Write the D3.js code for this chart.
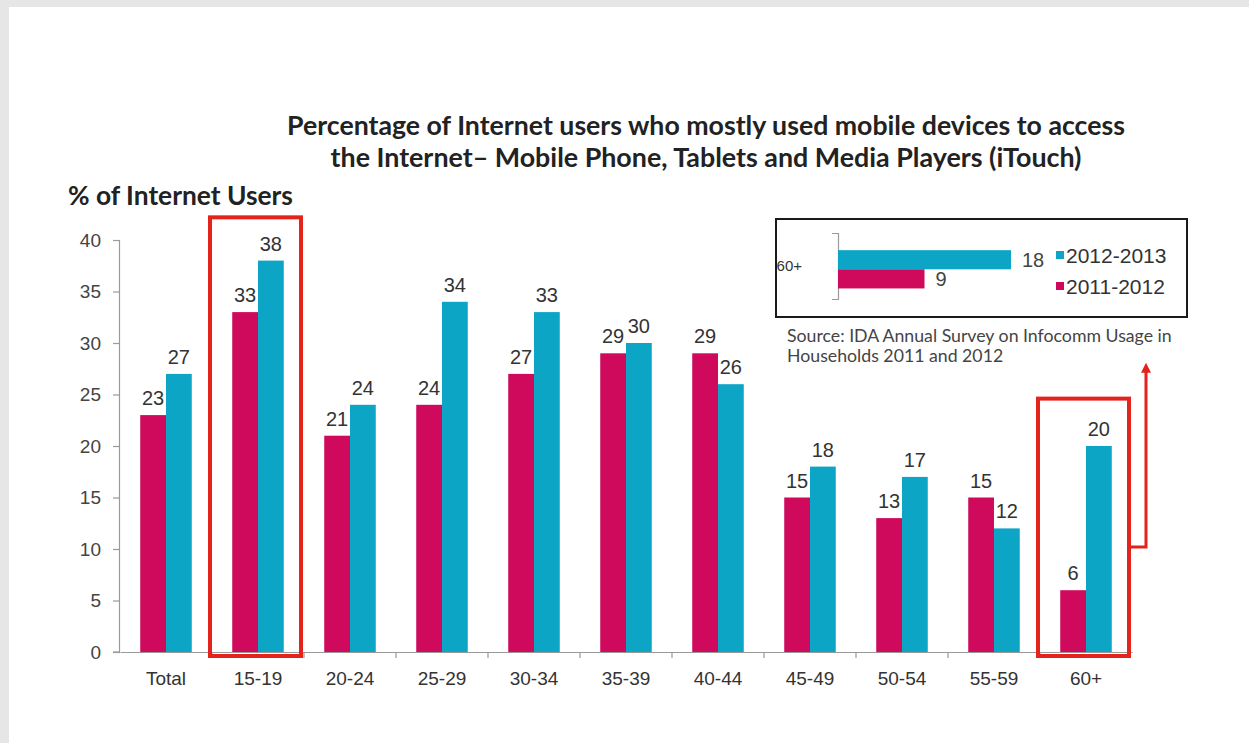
<!DOCTYPE html>
<html>
<head>
<meta charset="utf-8">
<script src="https://cdn.jsdelivr.net/npm/d3@7"></script>
<style>
  html, body { margin: 0; padding: 0; background: #e6e6e6; }
  svg { display: block; }
</style>
</head>
<body>
<svg id="chart" width="1249" height="743"></svg>
<script>
// ---------- data ----------
const categories = ["Total","15-19","20-24","25-29","30-34","35-39","40-44","45-49","50-54","55-59","60+"];
const series = ["2011-2012","2012-2013"];
const values2011 = [23,33,21,24,27,29,29,15,13,15,6];
const values2013 = [27,38,24,34,33,30,26,18,17,12,20];
const yTicks = [0,5,10,15,20,25,30,35,40];
const highlighted = ["15-19","60+"];
const insetCategory = ["60+"];
const insetSeries = ["2012-2013","2011-2012"];
const insetValues = [18, 9];
const titleLines = [
  "Percentage of Internet users who mostly used mobile devices to access",
  "the Internet\u2013 Mobile Phone, Tablets and Media Players (iTouch)"
];
const yTitle = "% of Internet Users";
const sourceLines = [
  "Source: IDA Annual Survey on Infocomm Usage in",
  "Households 2011 and 2012"
];

const colors = { "2011-2012": "#cf0a5c", "2012-2013": "#0ca5c5" };
const sansFont = "'Liberation Sans', Arial, sans-serif";
const titleFont = "Lato, 'Open Sans', sans-serif";

const svg = d3.select("#chart");

// background card
svg.append("rect").attr("x", 0).attr("y", 0).attr("width", 1249).attr("height", 743).attr("fill", "#e6e6e6");
svg.append("rect").attr("x", 9).attr("y", 7).attr("width", 1240).attr("height", 736).attr("fill", "#ffffff");

// ---------- scales ----------
const x = d3.scaleBand().domain(categories).range([120, 1132]).paddingInner(0).paddingOuter(0);
const xSub = d3.scaleBand().domain(series).range([x.bandwidth() * 0.22, x.bandwidth() * 0.78]).padding(0);
const y = d3.scaleLinear().domain([0, 40]).range([652, 240]);

// ---------- title ----------
function fitText(sel, targetWidth, baseSize) {
  sel.attr("font-size", baseSize);
  const w = sel.node().getComputedTextLength();
  const size = baseSize * targetWidth / w;
  sel.attr("font-size", size.toFixed(2));
  return size;
}
const titleWidths = [838, 751];
const titleY = [135, 167];
titleLines.forEach((t, i) => {
  const tx = svg.append("text")
    .attr("x", 706).attr("y", titleY[i])
    .attr("text-anchor", "middle")
    .attr("font-family", titleFont).attr("font-weight", "bold")
    .attr("fill", "#222")
    .text(t);
  fitText(tx, titleWidths[i], 20);
});

const yt = svg.append("text")
  .attr("x", 68).attr("y", 205)
  .attr("font-family", titleFont).attr("font-weight", "bold")
  .attr("fill", "#222")
  .text(yTitle);
fitText(yt, 225, 20);

// ---------- axes ----------
const yAxis = d3.axisLeft(y).tickValues(yTicks).tickSize(7).tickPadding(12);
const gy = svg.append("g").attr("transform", "translate(120,0)").call(yAxis);
gy.select(".domain").attr("stroke", "#9a9a9a").attr("stroke-width", 1.2).attr("d", `M-0.5,${y(40)}V${y(0)}`);
gy.selectAll(".tick line").attr("stroke", "#9a9a9a").attr("stroke-width", 1.2);
gy.selectAll(".tick text")
  .attr("font-family", sansFont).attr("font-size", 19).attr("fill", "#444");

const xAxis = d3.axisBottom(x).tickSize(0).tickPadding(23);
const gx = svg.append("g").attr("transform", `translate(0,${y(0)})`).call(xAxis);
gx.select(".domain").attr("stroke", "#9a9a9a").attr("stroke-width", 1.2);
gx.selectAll(".tick text")
  .attr("font-family", sansFont).attr("font-size", 19).attr("fill", "#333")
  .attr("dy", "0.5em");
// boundary ticks
svg.append("g").selectAll("line")
  .data(categories.slice(1))
  .join("line")
  .attr("x1", d => x(d)).attr("x2", d => x(d))
  .attr("y1", y(0)).attr("y2", y(0) + 6)
  .attr("stroke", "#9a9a9a").attr("stroke-width", 1.2);
svg.append("line")
  .attr("x1", 113).attr("x2", 120).attr("y1", y(0)).attr("y2", y(0))
  .attr("stroke", "#9a9a9a").attr("stroke-width", 1.2);

// ---------- bars ----------
const rows = categories.map((c, i) => ({ cat: c, vals: [
  { s: "2011-2012", v: values2011[i] },
  { s: "2012-2013", v: values2013[i] }
]}));

const groups = svg.append("g").selectAll("g")
  .data(rows).join("g")
  .attr("transform", d => `translate(${x(d.cat)},0)`);

groups.selectAll("rect")
  .data(d => d.vals).join("rect")
  .attr("x", d => xSub(d.s))
  .attr("width", xSub.bandwidth())
  .attr("y", d => y(d.v))
  .attr("height", d => y(0) - y(d.v))
  .attr("fill", d => colors[d.s]);

groups.selectAll("text")
  .data(d => d.vals).join("text")
  .attr("x", d => xSub(d.s) + xSub.bandwidth() / 2)
  .attr("y", d => y(d.v) - 10)
  .attr("text-anchor", "middle")
  .attr("font-family", sansFont).attr("font-size", 20)
  .attr("fill", "#333")
  .text(d => d.v);

// ---------- highlight boxes ----------
const boxTops = { "15-19": 42.2, "60+": 24.6 };
svg.append("g").selectAll("rect")
  .data(highlighted).join("rect")
  .attr("x", d => x(d) - 2)
  .attr("y", d => y(boxTops[d]))
  .attr("width", x.bandwidth() - 1)
  .attr("height", d => y(0) + 4 - y(boxTops[d]))
  .attr("fill", "none")
  .attr("stroke", "#e3231c").attr("stroke-width", 4);

// arrow from 60+ box to inset
const boxRight = x("60+") + x.bandwidth() - 3;
const arrowX = boxRight + 17;
svg.append("path")
  .attr("d", `M${boxRight},${y(10.2)}H${arrowX}V${y(27.3)}`)
  .attr("fill", "none").attr("stroke", "#e3231c").attr("stroke-width", 3);
svg.append("path")
  .attr("d", `M${arrowX - 5},${y(27.3) + 2}L${arrowX},${y(27.3) - 8}L${arrowX + 5},${y(27.3) + 2}Z`)
  .attr("fill", "#e3231c");

// ---------- inset ----------
const inset = svg.append("g");
inset.append("rect")
  .attr("x", 776).attr("y", 219).attr("width", 411).attr("height", 98)
  .attr("fill", "#fff").attr("stroke", "#1a1a1a").attr("stroke-width", 2);

const ix = d3.scaleLinear().domain([0, 18]).range([838, 1011]);
const iy = d3.scaleBand().domain(insetCategory).range([233, 299]);
const iySub = d3.scaleBand().domain(insetSeries).range([iy.bandwidth() * 0.26, iy.bandwidth() * 0.84]);

const iAxis = d3.axisLeft(iy).tickSize(0).tickPadding(36).tickSizeOuter(6);
const giy = inset.append("g").attr("transform", "translate(838,0)").call(iAxis);
giy.select(".domain").attr("stroke", "#9a9a9a").attr("stroke-width", 1.2);
giy.selectAll(".tick text").attr("font-family", sansFont).attr("font-size", 15).attr("fill", "#333");

const insetData = insetSeries.map((s, i) => ({ s, v: insetValues[i] }));
inset.selectAll("rect.ib").data(insetData).join("rect").attr("class", "ib")
  .attr("x", ix(0))
  .attr("y", d => iy("60+") + iySub(d.s))
  .attr("width", d => ix(d.v) - ix(0))
  .attr("height", iySub.bandwidth())
  .attr("fill", d => colors[d.s]);
inset.selectAll("text.il").data(insetData).join("text").attr("class", "il")
  .attr("x", d => ix(d.v) + 11)
  .attr("y", d => iy("60+") + iySub(d.s) + iySub.bandwidth() / 2)
  .attr("dy", "0.36em")
  .attr("font-family", sansFont).attr("font-size", 20).attr("fill", "#444")
  .text(d => d.v);

// legend
const legY = { "2012-2013": 255, "2011-2012": 286 };
const leg = inset.selectAll("g.leg").data(insetSeries).join("g").attr("class", "leg")
  .attr("transform", d => `translate(1056,${legY[d]})`);
leg.append("rect").attr("x", 0).attr("y", -4).attr("width", 8).attr("height", 8)
  .attr("fill", d => colors[d]);
leg.append("text").attr("x", 10).attr("y", 0).attr("dy", "0.36em")
  .attr("font-family", sansFont).attr("font-size", 21).attr("fill", "#333")
  .text(d => d);

// source
let srcSize = 14;
sourceLines.forEach((t, i) => {
  const st = svg.append("text")
    .attr("x", 787).attr("y", 342 + i * 20)
    .attr("font-family", titleFont)
    .attr("fill", "#444")
    .text(t);
  if (i === 0) srcSize = fitText(st, 385, 14);
  else st.attr("font-size", srcSize.toFixed(2));
});
</script>
</body>
</html>
